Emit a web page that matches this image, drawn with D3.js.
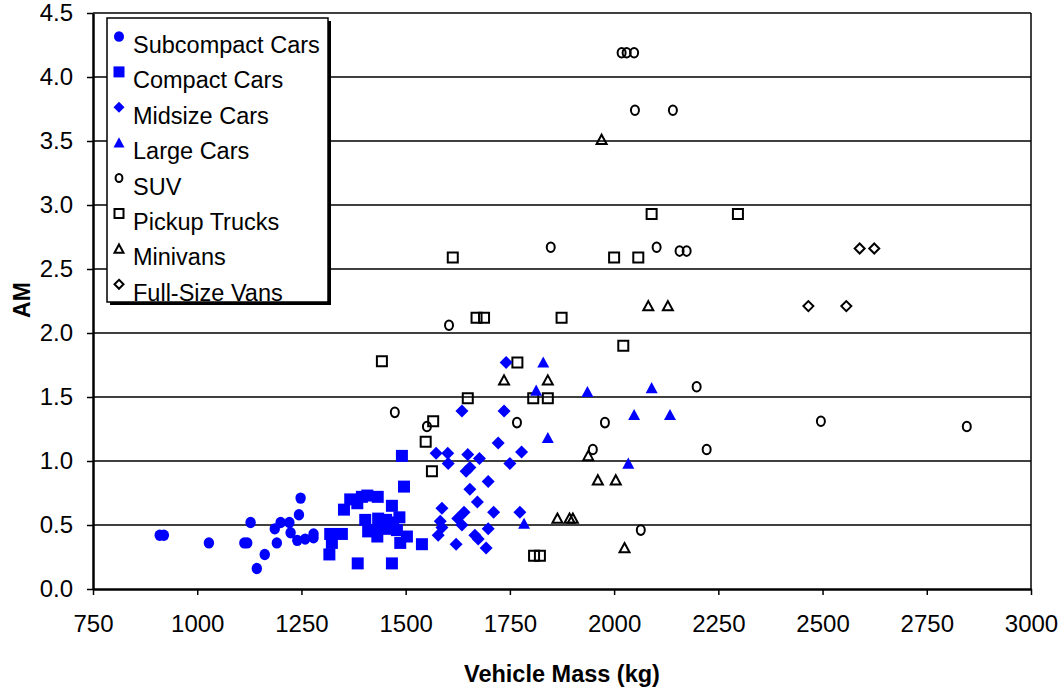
<!DOCTYPE html>
<html>
<head>
<meta charset="utf-8">
<script src="https://cdn.jsdelivr.net/npm/d3@7"></script>
<style>
  body { margin: 0; background: #fff; }
  text { font-family: Arial, "Liberation Sans", sans-serif; }
</style>
</head>
<body>
<div id="chart"></div>
<script>
// Data: [vehicle mass (kg), AM]
var subcompact = [[910,0.42],[920,0.42],[1028,0.36],[1113,0.36],[1120,0.36],[1128,0.52],[1143,0.16],[1162,0.27],[1186,0.47],[1191,0.36],[1200,0.52],[1221,0.52],[1224,0.44],[1244,0.58],[1248,0.71],[1240,0.38],[1259,0.39],[1279,0.43],[1279,0.40]];
var compact = [[1491,1.04],[1496,0.80],[1352,0.62],[1367,0.70],[1384,0.67],[1395,0.72],[1408,0.73],[1433,0.72],[1467,0.65],[1403,0.54],[1434,0.55],[1453,0.54],[1485,0.56],[1422,0.46],[1439,0.49],[1458,0.47],[1432,0.41],[1479,0.46],[1503,0.41],[1487,0.36],[1319,0.43],[1347,0.43],[1323,0.36],[1317,0.27],[1539,0.35],[1385,0.20],[1467,0.20],[1410,0.45],[1470,0.52]];
var midsize = [[1741,1.77],[1635,1.39],[1736,1.39],[1722,1.14],[1573,1.06],[1601,1.06],[1602,0.98],[1649,1.05],[1677,1.02],[1645,0.92],[1654,0.95],[1778,1.07],[1750,0.98],[1698,0.84],[1654,0.78],[1672,0.68],[1587,0.63],[1640,0.60],[1711,0.60],[1774,0.60],[1583,0.53],[1625,0.55],[1635,0.50],[1587,0.48],[1698,0.47],[1578,0.42],[1666,0.42],[1674,0.39],[1621,0.35],[1693,0.32]];
var large = [[1830,1.77],[1813,1.55],[1936,1.54],[2090,1.57],[2048,1.36],[2134,1.36],[1841,1.18],[2034,0.98],[1784,0.51]];
var suv = [[2018,4.19],[2030,4.19],[2048,4.19],[2050,3.74],[2141,3.74],[1848,2.67],[2102,2.67],[2157,2.64],[2174,2.64],[1604,2.06],[1474,1.38],[1551,1.27],[1767,1.30],[1978,1.30],[1949,1.09],[2198,1.58],[2222,1.09],[2064,0.46],[2496,1.31],[2846,1.27]];
var pickup = [[1613,2.59],[2000,2.59],[2058,2.59],[2090,2.93],[2297,2.93],[1670,2.12],[1688,2.12],[1874,2.12],[2022,1.90],[1443,1.78],[1768,1.77],[1649,1.49],[1806,1.49],[1841,1.49],[1566,1.31],[1548,1.15],[1563,0.92],[1808,0.26],[1822,0.26]];
var minivan = [[1970,3.51],[2082,2.21],[2129,2.21],[1736,1.63],[1841,1.63],[1938,1.04],[1961,0.85],[2004,0.85],[1864,0.55],[1893,0.55],[1901,0.55],[2025,0.32]];
var fullsize = [[2589,2.66],[2624,2.66],[2466,2.21],[2557,2.21]];

var seriesNames = ["Subcompact Cars", "Compact Cars", "Midsize Cars", "Large Cars", "SUV", "Pickup Trucks", "Minivans", "Full-Size Vans"];
var xTicks = [750, 1000, 1250, 1500, 1750, 2000, 2250, 2500, 2750, 3000];
var yTicks = [0, 0.5, 1, 1.5, 2, 2.5, 3, 3.5, 4, 4.5];

var svgWidth = 1062;
var svgHeight = 694;
var margin = { top: 13, right: 31, bottom: 105, left: 93 };
var width = svgWidth - margin.left - margin.right;
var height = svgHeight - margin.top - margin.bottom;

var svg = d3.select("#chart")
    .append("svg")
    .attr("width", svgWidth)
    .attr("height", svgHeight);

var chartGroup = svg.append("g")
    .attr("transform", `translate(${margin.left}, ${margin.top})`);

var x = d3.scaleLinear().domain([750, 3000]).range([0, width]);
var y = d3.scaleLinear().domain([0, 4.5]).range([height, 0]);

// gridlines
chartGroup.append("g")
    .selectAll("line")
    .data(yTicks.slice(1))
    .enter()
    .append("line")
    .attr("x1", 0)
    .attr("x2", width)
    .attr("y1", d => y(d))
    .attr("y2", d => y(d))
    .attr("stroke", "#000")
    .attr("stroke-width", 1.5);

// right frame
chartGroup.append("line")
    .attr("x1", width).attr("x2", width)
    .attr("y1", 0).attr("y2", height)
    .attr("stroke", "#000").attr("stroke-width", 1.5);

// axes
var bottomAxis = d3.axisBottom(x).tickValues(xTicks).tickSize(6).tickSizeOuter(0).tickPadding(20).tickFormat(d3.format("d"));
var leftAxis = d3.axisLeft(y).tickValues(yTicks).tickSize(6).tickSizeOuter(0).tickPadding(14).tickFormat(d3.format(".1f"));

var xAxis = chartGroup.append("g")
    .attr("transform", `translate(0, ${height})`)
    .call(bottomAxis);
var yAxis = chartGroup.append("g")
    .call(leftAxis);

[xAxis, yAxis].forEach(function (ax) {
    ax.select(".domain").attr("stroke", "#000").attr("stroke-width", 2.5);
    ax.selectAll(".tick line").attr("stroke", "#000").attr("stroke-width", 1.5);
    ax.selectAll(".tick text")
        .attr("fill", "#000")
        .style("font-size", "24px");
});

// marker shapes, centred on the point
var blue = "#0000ff";
function shapePath(kind, s) {
    if (kind === "square") return `M${-s},${-s}H${s}V${s}H${-s}Z`;
    if (kind === "diamond") return `M0,${-s}L${s},0L0,${s}L${-s},0Z`;
    if (kind === "triangle") return `M0,${-s}L${s},${s * 0.85}L${-s},${s * 0.85}Z`;
    return "";
}
var styles = [
    { data: subcompact, kind: "circle", rx: 5.2, ry: 5.7, filled: true },
    { data: compact, kind: "square", s: 6, filled: true },
    { data: midsize, kind: "diamond", s: 6.5, filled: true },
    { data: large, kind: "triangle", s: 6, filled: true },
    { data: suv, kind: "circle", rx: 4, ry: 4.8, filled: false },
    { data: pickup, kind: "square", s: 5, filled: false },
    { data: minivan, kind: "triangle", s: 5, filled: false },
    { data: fullsize, kind: "diamond", s: 5, filled: false }
];

function drawMarker(sel, st) {
    var m;
    if (st.kind === "circle") {
        m = sel.append("ellipse").attr("rx", st.rx).attr("ry", st.ry);
    } else {
        m = sel.append("path").attr("d", shapePath(st.kind, st.s));
    }
    if (st.filled) {
        m.attr("fill", blue).attr("stroke", "none");
    } else {
        m.attr("fill", "none").attr("stroke", "#000").attr("stroke-width", 2);
    }
}

var pointsGroup = chartGroup.append("g");
// open markers first, filled blue ones on top
[4, 5, 6, 7, 0, 1, 2, 3].forEach(function (i) {
    var st = styles[i];
    pointsGroup.append("g")
        .selectAll("g")
        .data(st.data)
        .enter()
        .append("g")
        .attr("transform", d => `translate(${x(d[0])}, ${y(d[1])})`)
        .each(function () { drawMarker(d3.select(this), st); });
});

// axis titles
svg.append("text")
    .attr("x", margin.left + width / 2)
    .attr("y", 682)
    .attr("text-anchor", "middle")
    .style("font-size", "23.5px")
    .style("font-weight", "bold")
    .text("Vehicle Mass (kg)");

svg.append("text")
    .attr("transform", "translate(30, 300) rotate(-90)")
    .attr("text-anchor", "middle")
    .style("font-size", "23px")
    .style("font-weight", "bold")
    .text("AM");

// legend with drop shadow
var legend = svg.append("g").attr("transform", "translate(107, 18)");
var legW = 221, legH = 284;
legend.append("rect")
    .attr("x", 3).attr("y", 3)
    .attr("width", legW).attr("height", legH)
    .attr("fill", "#000");
legend.append("rect")
    .attr("width", legW).attr("height", legH)
    .attr("fill", "#fff")
    .attr("stroke", "#000")
    .attr("stroke-width", 1.5);

var legendRows = legend.selectAll(".row")
    .data(seriesNames)
    .enter()
    .append("g")
    .attr("class", "row")
    .attr("transform", (d, i) => `translate(12, ${18.5 + i * 35.4})`);

legendRows.each(function (d, i) {
    var st = styles[i];
    var small = Object.assign({}, st, st.kind === "circle"
        ? { rx: st.filled ? 5 : 3.4, ry: st.filled ? 5.3 : 4 }
        : { s: st.filled ? 5.5 : 4.5 });
    drawMarker(d3.select(this), small);
});

legendRows.append("text")
    .attr("x", 14)
    .attr("y", 16.5)
    .style("font-size", "23.5px")
    .attr("fill", "#000")
    .text(d => d);
</script>
</body>
</html>
